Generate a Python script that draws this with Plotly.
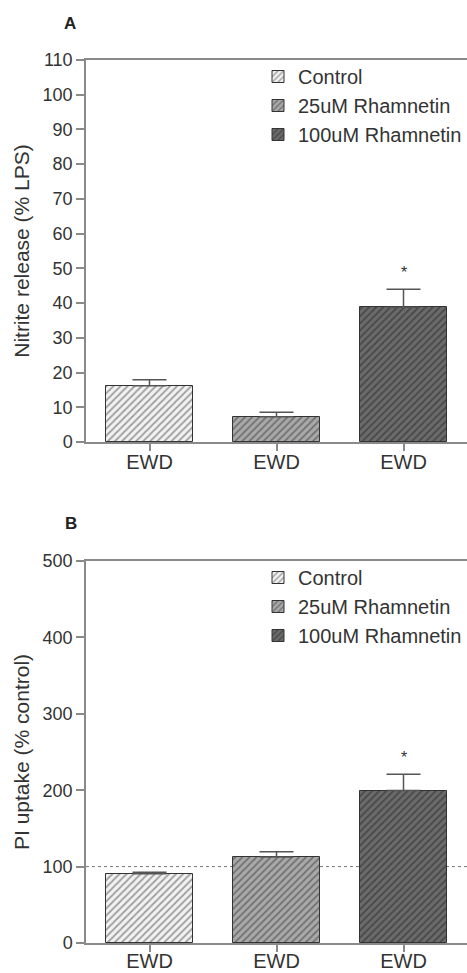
import plotly.graph_objects as go
from plotly.subplots import make_subplots

groups = ["Control", "25uM Rhamnetin", "100uM Rhamnetin"]
category_labels = ["EWD", "EWD", "EWD"]

nitrite_mean = [16.2, 7.3, 38.8]
nitrite_sem = [1.7, 1.3, 5.2]
nitrite_sig = ["", "", "*"]

pi_mean = [90.5, 112.5, 199.5]
pi_sem = [2.0, 7.0, 21.5]
pi_sig = ["", "", "*"]
pi_reference = 100

nitrite_ticks = list(range(0, 111, 10))
pi_ticks = list(range(0, 501, 100))

bg_colors = ["#f2f2f2", "#a9a9a9", "#6b6b6b"]
fg_colors = ["#4a4a4a", "#3a3a3a", "#262626"]

FONT = "Liberation Sans, Arial, sans-serif"
TXT = "#333333"
AX = "#8a8a8a"

W, H = 467, 973
ML, MR, MT, MB = 86, 0, 60, 30
PW = W - ML - MR
PH = H - MT - MB

def py(pix):
    return (H - MB - pix) / PH

def px(pix):
    return (pix - ML) / PW

fig = make_subplots(rows=2, cols=1, vertical_spacing=0.0)

positions = list(range(len(groups)))

for row, (means, sems, legend) in enumerate(
        [(nitrite_mean, nitrite_sem, "legend"), (pi_mean, pi_sem, "legend2")], start=1):
    for i, g in enumerate(groups):
        fig.add_trace(go.Bar(
            x=[positions[i]], y=[means[i]], name=g, legend=legend,
            width=0.68,
            marker=dict(color=bg_colors[i],
                        line=dict(color="#333333", width=1),
                        pattern=dict(shape="/", bgcolor=bg_colors[i], fgcolor=fg_colors[i],
                                     size=5, solidity=0.35, fillmode="overlay")),
            error_y=dict(type="data", array=[sems[i]], arrayminus=[0], symmetric=False,
                         color="#555555", thickness=1.5, width=17),
            showlegend=True,
        ), row=row, col=1)

fig.update_layout(
    yaxis=dict(domain=[py(442), py(60)]),
    yaxis2=dict(domain=[py(943), py(561)]),
)

axis_common = dict(showline=True, linecolor=AX, linewidth=1.5, ticks="outside",
                   tickwidth=1.5, tickcolor=AX, showgrid=False, zeroline=False,
                   automargin=False)

for r, ticks, title, top, lab_off in [(1, nitrite_ticks, "Nitrite release (% LPS)", 110, -6),
                                       (2, pi_ticks, "PI uptake (% control)", 500, -8)]:
    fig.update_yaxes(range=[0, top], tickvals=ticks, ticklen=8, **axis_common,
                     tickfont=dict(family=FONT, size=18, color=TXT),
                     title=dict(text=title, font=dict(family=FONT, size=21, color=TXT), standoff=7),
                     row=r, col=1)
    fig.update_xaxes(range=[-0.5, 2.5], tickvals=positions, ticktext=category_labels,
                     mirror=True, ticklen=7, ticklabelstandoff=lab_off, **axis_common,
                     tickfont=dict(family=FONT, size=20, color=TXT),
                     row=r, col=1)

fig.add_hline(y=pi_reference, line=dict(color="#777777", width=1, dash="dot"),
              layer="below", row=2, col=1)

for r, means, sems, sig in [(1, nitrite_mean, nitrite_sem, nitrite_sig),
                            (2, pi_mean, pi_sem, pi_sig)]:
    xref = "x" if r == 1 else "x2"
    yref = "y" if r == 1 else "y2"
    for i, s in enumerate(sig):
        if s:
            fig.add_annotation(x=positions[i], y=means[i] + sems[i], xref=xref, yref=yref,
                               text=s, showarrow=False, yanchor="bottom", yshift=6,
                               font=dict(family=FONT, size=16, color=TXT))

for letter, lx, ly in [("A", 70, 24), ("B", 71, 523)]:
    fig.add_annotation(x=px(lx), y=py(ly), xref="paper", yref="paper",
                       xanchor="center", yanchor="middle",
                       text=f"<b>{letter}</b>", showarrow=False,
                       font=dict(family=FONT, size=17, color="#222"))

legend_common = dict(xanchor="left", yanchor="top", bgcolor="rgba(0,0,0,0)",
                     font=dict(family=FONT, size=20, color=TXT), tracegroupgap=0,
                     itemclick=False)
fig.update_layout(
    width=W, height=H, margin=dict(l=ML, r=MR, t=MT, b=MB, autoexpand=False),
    paper_bgcolor="white", plot_bgcolor="white",
    barmode="overlay", bargap=0,
    legend=dict(x=px(258), y=py(57), **legend_common),
    legend2=dict(x=px(258), y=py(558), **legend_common),
)

fig.write_html("out.html", config={"displayModeBar": False},
               post_script="document.body.style.margin='0';document.body.style.overflow='hidden';")
